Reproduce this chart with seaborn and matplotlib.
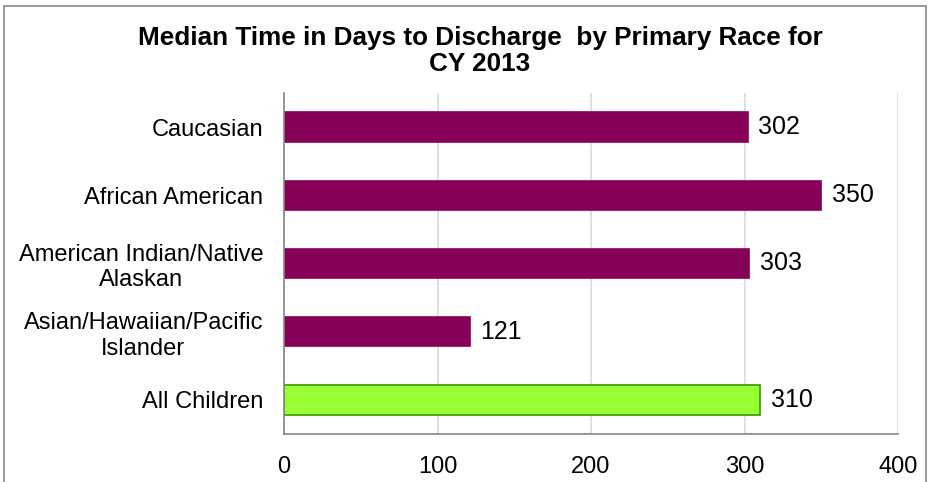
import numpy as np
import pandas as pd
import seaborn as sns
import matplotlib.pyplot as plt
from matplotlib.patches import Rectangle

# --- Data ---
categories = ["Caucasian", "African American", "American Indian/Native\nAlaskan",
              "Asian/Hawaiian/Pacific\nIslander", "All Children"]
median_days = [302, 350, 303, 121, 310]
bar_colors = ["#870057", "#870057", "#870057", "#870057", "#99FF33"]
edge_colors = ["#870057", "#870057", "#870057", "#870057", "#339900"]
x_ticks = [0, 100, 200, 300, 400]

df = pd.DataFrame({"race": categories, "days": median_days})

sns.set_style("white")
plt.rcParams['font.family'] = ['Liberation Sans', 'DejaVu Sans']
plt.rcParams['text.color'] = 'black'
plt.rcParams['xtick.color'] = 'black'
plt.rcParams['ytick.color'] = 'black'

fig = plt.figure(figsize=(9.3, 4.82), dpi=100)
ax = fig.add_axes([284 / 930, 1 - 434 / 482, 614 / 930, 341 / 482])

sns.barplot(data=df, y="race", x="days", hue="race", palette=bar_colors,
            saturation=1, legend=False, width=0.43, orient="h", ax=ax)
for patch, ec in zip(ax.patches, edge_colors):
    patch.set_edgecolor(ec)
    patch.set_linewidth(1.2)

# value labels
for i, v in enumerate(median_days):
    ax.text(v + 7, i, str(v), va="center", ha="left", fontsize=18)

ax.set_xlim(0, 400)
ax.set_ylim(4.5, -0.5)
ax.set_xticks(x_ticks)
ax.set_xticklabels([str(t) for t in x_ticks], fontsize=17)
ax.set_yticks(range(len(categories)))
ax.set_yticklabels(categories, fontsize=17, ha="right", multialignment="center",
                   linespacing=1.2)
ax.tick_params(axis="y", length=0, pad=15)
ax.set_yticks(np.arange(-0.5, len(categories), 1.0), minor=True)
ax.tick_params(axis="y", which="minor", length=5, color="#868686", direction="out")
ax.tick_params(axis="x", length=6, color="#868686", direction="out", pad=10)
ax.set_xlabel("")
ax.set_ylabel("")

ax.grid(axis="x", color="#d9d9d9", linewidth=1.2)
ax.set_axisbelow(True)
for side in ["top", "right"]:
    ax.spines[side].set_visible(False)
for side in ["left", "bottom"]:
    ax.spines[side].set_color("#868686")
    ax.spines[side].set_linewidth(1.2)

fig.text(480 / 930, 1 - 51 / 482, "Median Time in Days to Discharge  by Primary Race for\nCY 2013",
         ha="center", va="center", fontsize=18.8, fontweight="bold", linespacing=1.1)

# chart border
fig.patches.append(Rectangle((4 / 930, -0.1), 922 / 930, 1.1 - 6 / 482,
                             transform=fig.transFigure, fill=False,
                             edgecolor="#868686", linewidth=1.2))

fig.savefig("out.png", dpi=100)
